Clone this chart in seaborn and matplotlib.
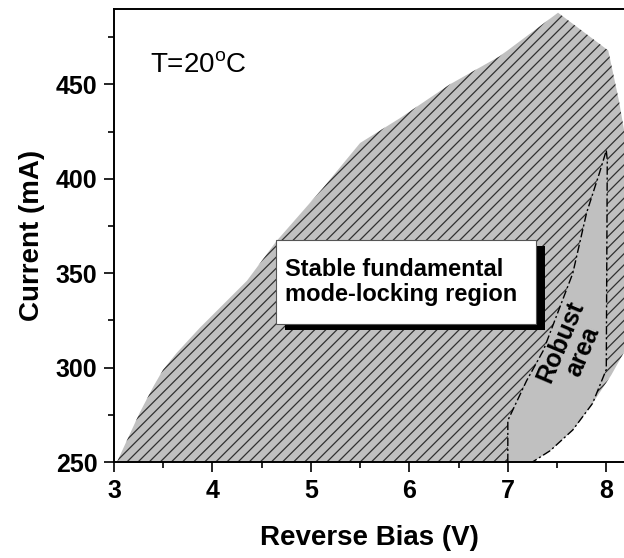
import matplotlib
matplotlib.use("Agg")
import matplotlib.pyplot as plt
import seaborn as sns
import numpy as np
from matplotlib.patches import Rectangle

# outer stable mode-locking region (reverse bias V, current mA)
stable_bias = [3.03, 3.26, 3.40, 3.50, 3.64, 3.87, 4.35, 4.65, 5.12, 5.50, 5.90,
               6.41, 6.92, 7.51, 8.02, 8.13, 8.20, 8.20, 8.05, 7.86, 7.66, 7.43, 7.25]
stable_current = [250, 276, 290, 299, 308, 321, 346, 367, 395, 419, 432,
                  450, 465, 488, 468, 441, 420, 310, 296, 281, 267, 256, 250]

# robust area, left (dash-dot) edge from bottom to tip
robust_left_bias = [7.00, 7.00, 7.19, 7.36, 7.66, 7.80, 7.93, 8.00]
robust_left_current = [250, 272, 293, 309, 350, 382, 403, 415]
# robust area, right edge from tip to bottom
robust_right_bias = [8.00, 8.01, 8.00, 7.86, 7.66, 7.43, 7.25]
robust_right_current = [415, 410, 299, 281, 267, 256, 250]

x_ticks = [3, 4, 5, 6, 7, 8]
y_ticks = [250, 300, 350, 400, 450]

sns.set_theme(style="ticks")
plt.rcParams['font.family'] = ['Liberation Sans', 'DejaVu Sans']
plt.rcParams['mathtext.fontset'] = 'custom'
plt.rcParams['mathtext.rm'] = 'Liberation Sans'
plt.rcParams['hatch.linewidth'] = 0.9
for key in ['text.color', 'axes.labelcolor', 'xtick.color', 'ytick.color',
            'xtick.labelcolor', 'ytick.labelcolor']:
    plt.rcParams[key] = 'black'

fig = plt.figure(figsize=(6.24, 5.58), dpi=100)
ax = fig.add_axes([0.1827, 0.172, 1.0 - 0.1827, 0.984 - 0.172])

grey = '#c0c0c0'

# hatched stable region
ax.fill(stable_bias, stable_current, facecolor=grey, edgecolor='#303030',
        linewidth=0, hatch='///', zorder=1)

# robust area: plain grey on top
rb = robust_left_bias + robust_right_bias[1:]
rc = robust_left_current + robust_right_current[1:]
ax.fill(rb, rc, facecolor=grey, edgecolor='none', linewidth=0, zorder=2)

sns.lineplot(x=robust_left_bias, y=robust_left_current, ax=ax, color='black',
             sort=False, estimator=None, linewidth=1.0, dashes=False, zorder=3)
sns.lineplot(x=robust_right_bias, y=robust_right_current, ax=ax, color='black',
             sort=False, estimator=None, linewidth=1.0, dashes=False, zorder=3)
for line in ax.lines:
    line.set_dashes([6, 2, 1.5, 2])

# label box with shadow
ax.add_patch(Rectangle((4.74, 320), 2.64, 44.5, facecolor='black',
                       edgecolor='none', zorder=4))
ax.add_patch(Rectangle((4.65, 323), 2.64, 44.5, facecolor='white',
                       edgecolor='#555555', linewidth=0.8, zorder=5))
ax.text(4.74, 345.5, 'Stable fundamental\nmode-locking region', fontsize=17,
        fontweight='bold', ha='left', va='center', linespacing=1.1, zorder=6)

ax.text(7.65, 311, 'Robust\narea', fontsize=18, fontweight='bold',
        rotation=67, ha='center', va='center', linespacing=1.0, zorder=6)

ax.text(3.37, 456, r'T=20$^{\rm o}$C', fontsize=20, ha='left', va='baseline')

ax.set_xlim(3, 8.18)
ax.set_ylim(250, 490)
ax.set_xticks(x_ticks)
ax.set_yticks(y_ticks)
ax.set_xticks(np.arange(3.5, 8.2, 1.0), minor=True)
ax.set_yticks(np.arange(275, 490, 50), minor=True)
ax.tick_params(which='major', direction='out', length=7, width=1.2,
               labelsize=18, pad=5)
ax.tick_params(which='minor', direction='out', length=4, width=1.2)
for lab in ax.get_xticklabels() + ax.get_yticklabels():
    lab.set_fontweight('bold')

ax.set_xlabel('Reverse Bias (V)', fontsize=20, fontweight='bold', labelpad=16)
ax.set_ylabel('Current (mA)', fontsize=20, fontweight='bold', labelpad=8)

for side in ['left', 'bottom', 'top']:
    ax.spines[side].set_linewidth(1.4)
    ax.spines[side].set_color('black')
ax.spines['right'].set_visible(False)

fig.savefig('out.png', dpi=100)
